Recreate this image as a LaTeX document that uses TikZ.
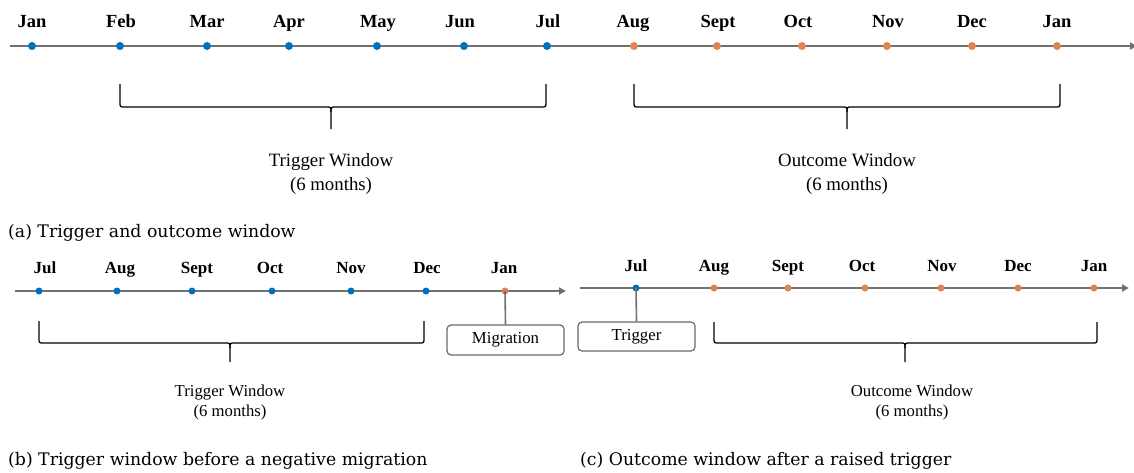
\documentclass[tikz,border=0pt]{standalone}
\usepackage{fontspec}
\setmainfont{Liberation Serif}
\newfontfamily\capfont{DejaVu Serif}
\usetikzlibrary{arrows.meta}
\definecolor{dotblue}{RGB}{0,114,189}
\definecolor{dotorange}{RGB}{221,132,82}
\definecolor{axisgray}{RGB}{112,112,112}
\definecolor{boxgray}{RGB}{105,105,105}
\newcommand\mybrace[6]{% x1 x2 xm ytop yh ybot
  \draw[brace] (#1,#4) -- (#1,{#5-5}) .. controls (#1,#5) .. ({#1+5},#5) -- ({#3-5},#5) .. controls (#3,#5) .. (#3,{#5+5}) -- (#3,#6);
  \draw[brace] (#2,#4) -- (#2,{#5-5}) .. controls (#2,#5) .. ({#2-5},#5) -- ({#3+5},#5) .. controls (#3,#5) .. (#3,{#5+5});
}
\begin{document}
\begin{tikzpicture}[x=1pt,y=-1pt,
  axis/.style={draw=axisgray, line width=2pt, -{Triangle[length=7pt,width=7pt]}},
  bdot/.style={circle, fill=dotblue, inner sep=0pt, minimum size=8pt},
  odot/.style={circle, fill=dotorange, inner sep=0pt, minimum size=8pt},
  sbdot/.style={bdot, minimum size=7pt},
  sodot/.style={odot, minimum size=7pt},
  monA/.style={font=\fontsize{18.5}{20}\selectfont\bfseries, inner sep=0pt, anchor=base},
  monB/.style={font=\fontsize{17}{19}\selectfont\bfseries, inner sep=0pt, anchor=base},
  winA/.style={font=\fontsize{18.8}{24}\selectfont, align=center, inner sep=0pt},
  winB/.style={font=\fontsize{16.7}{20}\selectfont, align=center, inner sep=0pt},
  capt/.style={font=\capfont\fontsize{17.3}{20}\selectfont, anchor=base west, inner sep=0pt},
  brace/.style={draw=black, line width=1.3pt},
  evbox/.style={draw=boxgray, rounded corners=4pt, line width=1.2pt, minimum width=117pt, minimum height=30pt, inner sep=0pt, font=\fontsize{16.8}{19}\selectfont},
  link/.style={draw=axisgray, line width=1.6pt}]
\useasboundingbox (0,0) rectangle (1134,472);

% ---------- panel (a) ----------
\coordinate (aS) at (10,46);
\coordinate (aE) at (1137,46);
\draw[axis] (aS) -- (aE);
\foreach \n/\x/\lx/\t in {1/32/32/Jan,2/120/121/Feb,3/207/207/Mar,4/289/289/Apr,5/377/378/May,6/464/460/Jun,7/547/548/Jul}{
  \node[bdot] (a\n) at (\x,46) {};
  \node[monA] (la\n) at (\lx,27) {\t};
}
\foreach \n/\x/\lx/\t in {8/634/633/Aug,9/717/718/Sept,10/802/798/Oct,11/887/888/Nov,12/972/972/Dec,13/1057/1057/Jan}{
  \node[odot] (a\n) at (\x,46) {};
  \node[monA] (la\n) at (\lx,27) {\t};
}
\mybrace{120}{546}{331}{84}{107}{129}
\mybrace{634}{1060}{847}{84}{107}{129}
\node[winA] (twA) at (331,174) {Trigger Window\\(6 months)};
\node[winA] (owA) at (847,174) {Outcome Window\\(6 months)};
\node[capt] (capA) at (8,237) {(a) Trigger and outcome window};

% ---------- panel (b) ----------
\coordinate (bS) at (15,291);
\coordinate (bE) at (566,291);
\draw[axis] (bS) -- (bE);
\foreach \n/\x/\lx/\t in {1/39/45/Jul,2/117/120/Aug,3/192/197/Sept,4/272/270/Oct,5/351/351/Nov,6/426/427/Dec}{
  \node[sbdot] (b\n) at (\x,291) {};
  \node[monB] (lb\n) at (\lx,273) {\t};
}
\node[sodot] (b7) at (505,291) {};
\node[monB] (lb7) at (504,273) {Jan};
\node[evbox] (mig) at (505.5,340) {Migration};
\draw[link] (b7.center) -- (mig.north);
\mybrace{39}{424}{230}{321}{343}{362}
\node[winB] (twB) at (230,402) {Trigger Window\\(6 months)};
\node[capt] (capB) at (8,465) {(b) Trigger window before a negative migration};

% ---------- panel (c) ----------
\coordinate (cS) at (580,288);
\coordinate (cE) at (1129,288);
\draw[axis] (cS) -- (cE);
\node[sbdot] (c1) at (636,288) {};
\node[monB] (lc1) at (636,271) {Jul};
\foreach \n/\x/\lx/\t in {2/714/714/Aug,3/788/788/Sept,4/865/862/Oct,5/941/942/Nov,6/1018/1018/Dec,7/1094/1094/Jan}{
  \node[sodot] (c\n) at (\x,288) {};
  \node[monB] (lc\n) at (\lx,271) {\t};
}
\node[evbox, minimum height=29pt] (trg) at (636.5,336.5) {Trigger};
\draw[link] (c1.center) -- (trg.north);
\mybrace{714}{1097}{905}{322}{343}{362}
\node[winB] (owB) at (912,402) {Outcome Window\\(6 months)};
\node[capt] (capC) at (580,465) {(c) Outcome window after a raised trigger};
\end{tikzpicture}
\end{document}
